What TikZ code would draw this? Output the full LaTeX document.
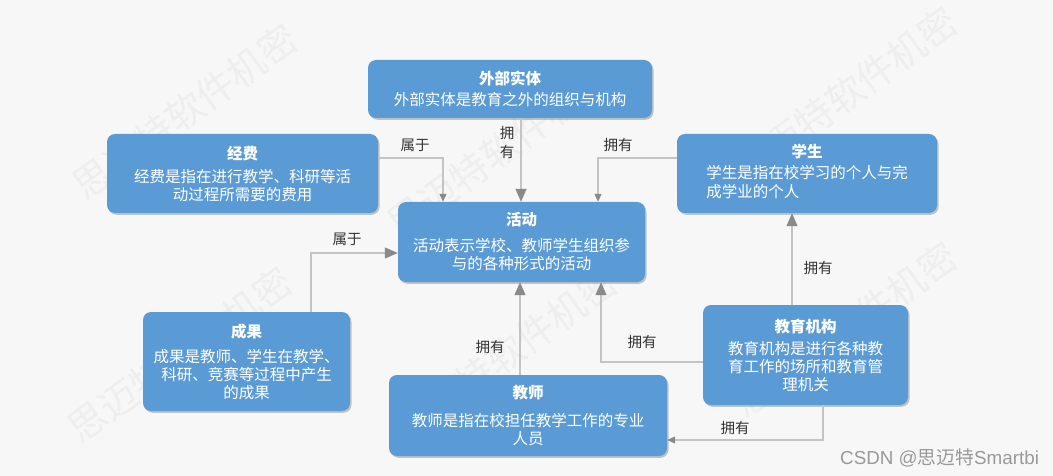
\documentclass[tikz,border=0pt]{standalone}
\usepackage{fontspec}
\setmainfont{Noto Sans CJK SC}
\newfontfamily\csdnfont{Liberation Sans}
\usetikzlibrary{arrows.meta,shadows,calc}
\definecolor{bg}{HTML}{F7F7F7}
\definecolor{boxblue}{HTML}{5B9BD5}
\definecolor{linegray}{HTML}{C4C4C4}
\definecolor{tipgray}{HTML}{8A8A8A}
\definecolor{lblgray}{HTML}{333333}
\definecolor{wmgray}{HTML}{EEEEEE}
\begin{document}
\begin{tikzpicture}[x=1pt,y=-1pt,
  box/.style={draw=none,fill=boxblue,rounded corners=8pt,text=white,align=center,
    inner sep=0pt,font=\fontsize{15.5}{18}\selectfont,
    drop shadow={shadow xshift=1.5pt,shadow yshift=-1.8pt,opacity=0.45,fill=gray}},
  conn/.style={draw=linegray,line width=1.2pt,-{Triangle[color=tipgray,length=13pt,width=11pt]}},
  connsmall/.style={draw=linegray,line width=1.2pt,-{Triangle[color=tipgray,length=8pt,width=7pt]}},
  lbl/.style={text=lblgray,font=\fontsize{14.5}{17}\selectfont,inner sep=0pt},
  wm/.style={text=wmgray,font=\fontsize{38}{40}\selectfont,rotate=36,inner sep=0pt}]
\fill[bg] (0,0) rectangle (1053,476);
\useasboundingbox (0,0) rectangle (1053,476);
% watermarks
\node[wm] (wm1) at (185,112) {思迈特软件机密};
\node[wm] (wm2) at (845,95) {思迈特软件机密};
\node[wm] (wm3) at (500,150) {思迈特软件机密};
\node[wm] (wm4) at (845,330) {思迈特软件机密};
\node[wm] (wm5) at (180,355) {思迈特软件机密};
\node[wm] (wm6) at (505,355) {思迈特软件机密};
% boxes
\node[box,minimum width=284pt,minimum height=58pt] (ext) at (510,89)
  {{\bfseries 外部实体}\\[3pt]外部实体是教育之外的组织与机构};
\node[box,minimum width=271pt,minimum height=79pt] (fund) at (242.5,173.5)
  {{\bfseries 经费}\\[5pt]经费是指在进行教学、科研等活\\动过程所需要的费用};
\node[box,minimum width=247pt,minimum height=80pt] (act) at (521.5,242)
  {{\bfseries 活动}\\[8pt]活动表示学校、教师学生组织参\\与的各种形式的活动};
\node[box,minimum width=260pt,minimum height=79pt] (stu) at (807,173.5)
  {{\bfseries 学生}\\[5pt]\begin{tabular}{@{}l@{}}学生是指在校学习的个人与完\\成学业的个人\end{tabular}};
\node[box,minimum width=207pt,minimum height=99pt] (res) at (246.5,361.5)
  {{\bfseries 成果}\\[7pt]成果是教师、学生在教学、\\科研、竞赛等过程中产生\\的成果};
\node[box,minimum width=278pt,minimum height=81pt] (tea) at (528,415.5)
  {{\bfseries 教师}\\[10pt]教师是指在校担任教学工作的专业\\人员};
\node[box,minimum width=205pt,minimum height=100pt] (org) at (805.5,355)
  {{\bfseries 教育机构}\\[4pt]教育机构是进行各种教\\育工作的场所和教育管\\理机关};
% connectors
\draw[conn] (521,0 |- ext.south) -- (521,0 |- act.north);
\draw[connsmall] (fund.east |- 0,158) -| (443,0 |- act.north);
\draw[connsmall] (stu.west |- 0,158) -| (598,0 |- act.north);
\draw[conn] (311,0 |- res.north) |- (act.west |- 0,253);
\draw[conn] (520,0 |- tea.north) -- (520,0 |- act.south);
\draw[conn] (org.west |- 0,362) -| (601,0 |- act.south);
\draw[conn] (792,0 |- org.north) -- (792,0 |- stu.south);
\draw[connsmall] (823,0 |- org.south) |- (tea.east |- 0,440);
% labels
\node[lbl] (l1) at (507,133) {拥};
\node[lbl] (l2) at (507,152) {有};
\node[lbl] (l3) at (415,145) {属于};
\node[lbl] (l4) at (618,145) {拥有};
\node[lbl] (l5) at (347,239) {属于};
\node[lbl] (l6) at (490,347) {拥有};
\node[lbl] (l7) at (642,342) {拥有};
\node[lbl] (l8) at (818,268) {拥有};
\node[lbl] (l9) at (735,428) {拥有};
% footer
\node[text=gray!80,font=\fontsize{18.8}{21}\selectfont,anchor=west,inner sep=0pt] (csdn) at (840,458) {{\csdnfont CSDN @}思迈特{\csdnfont Smartbi}};
\end{tikzpicture}
\end{document}
